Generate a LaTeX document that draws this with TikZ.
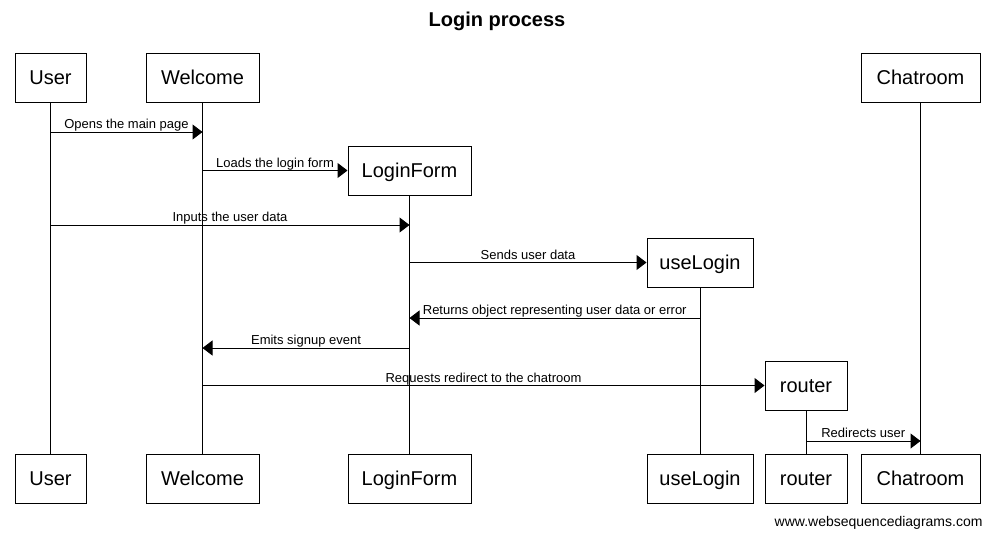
\documentclass[tikz,border=0pt]{standalone}
\usepackage{fontspec}
\setmainfont{Liberation Sans}
\usetikzlibrary{arrows.meta,positioning}
\definecolor{seqline}{RGB}{0,0,0}
\newcommand{\actor}[5]{%
  \node[actbox, minimum width=#5] (#1T) at (#3,#4) {#2};
  \node[actbox, minimum width=#5] (#1B) at (#3,478.5) {#2};
  \draw[life] (#1T) -- (#1B);}
\newcommand{\msgarr}[4]{%
  \draw[msg] (#1T |- 0,#3) -- (#2 |- 0,#3) node[mlab] {#4};}
\tikzset{
  actbox/.style={draw=seqline, line width=1pt, minimum height=49pt, inner sep=0pt,
      text height=14pt, text depth=0pt, font=\fontsize{20}{24}\selectfont},
  life/.style={seqline, line width=1pt},
  msg/.style={-{Triangle[length=10pt, width=15pt]}, seqline, line width=1pt},
  mlab/.style={midway, anchor=base, inner sep=0pt, yshift=3.5pt, font=\fontsize{13}{15}\selectfont},
  ttl/.style={font=\fontsize{20}{24}\selectfont\bfseries},
  foot/.style={font=\fontsize{14}{16}\selectfont, anchor=east},
}
\begin{document}
\begin{tikzpicture}[x=1pt,y=-1pt]
\useasboundingbox (0,0) rectangle (992,538);
\node[ttl] (title) at (497,21) {Login process};
\actor{user}{User}{50.5}{77.5}{71pt}
\actor{wel}{Welcome}{202.5}{77.5}{113pt}
\actor{form}{LoginForm}{409.5}{170.5}{123pt}
\actor{use}{useLogin}{700}{262.5}{106pt}
\actor{rout}{router}{806}{385.5}{82pt}
\actor{chat}{Chatroom}{920.5}{77.5}{119pt}
\msgarr{user}{welT}{132}{Opens the main page}
\msgarr{wel}{formT.west}{170.5}{Loads the login form}
\msgarr{user}{formT}{225}{Inputs the user data}
\msgarr{form}{useT.west}{262.5}{Sends user data}
\msgarr{use}{formT}{318}{Returns object representing user data or error}
\msgarr{form}{welT}{348}{Emits signup event}
\msgarr{wel}{routT.west}{385.5}{Requests redirect to the chatroom}
\msgarr{rout}{chatT}{441}{Redirects user}
\node[foot] (site) at (986,523) {www.websequencediagrams.com};
\end{tikzpicture}
\end{document}
